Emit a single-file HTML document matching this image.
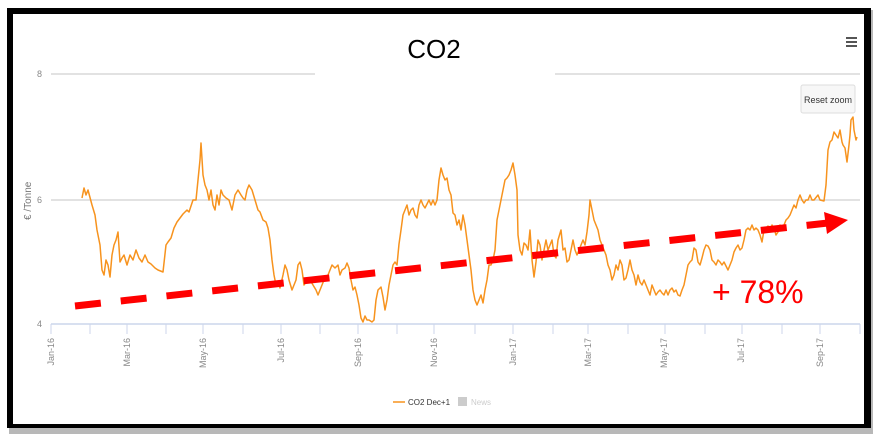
<!DOCTYPE html>
<html><head><meta charset="utf-8"><style>
html,body{margin:0;padding:0;background:#fff;width:886px;height:436px;overflow:hidden}
svg{display:block}
</style></head><body>
<svg width="886" height="436" viewBox="0 0 886 436" xmlns="http://www.w3.org/2000/svg" font-family="Liberation Sans, sans-serif">
<rect x="9" y="10" width="864" height="424" fill="#888" opacity="0.6"/>
<rect x="7" y="8" width="864" height="420" fill="#000"/>
<rect x="13" y="14" width="851" height="410" fill="#fff"/>
<line x1="51" y1="74" x2="315" y2="74" stroke="#d8d8d8" stroke-width="1.5"/>
<line x1="555" y1="74" x2="860" y2="74" stroke="#d8d8d8" stroke-width="1.5"/>
<line x1="51" y1="200" x2="860" y2="200" stroke="#d8d8d8" stroke-width="1.5"/>
<line x1="51" y1="324" x2="860" y2="324" stroke="#ccd6eb" stroke-width="1.5"/>
<g stroke="#ccd6eb" stroke-width="1">
<line x1="51" y1="324" x2="51" y2="334"/><line x1="90" y1="324" x2="90" y2="334"/><line x1="127" y1="324" x2="127" y2="334"/><line x1="166" y1="324" x2="166" y2="334"/><line x1="203" y1="324" x2="203" y2="334"/><line x1="243" y1="324" x2="243" y2="334"/><line x1="281" y1="324" x2="281" y2="334"/><line x1="320" y1="324" x2="320" y2="334"/><line x1="358" y1="324" x2="358" y2="334"/><line x1="397" y1="324" x2="397" y2="334"/><line x1="434" y1="324" x2="434" y2="334"/><line x1="475" y1="324" x2="475" y2="334"/><line x1="513" y1="324" x2="513" y2="334"/><line x1="553" y1="324" x2="553" y2="334"/><line x1="588" y1="324" x2="588" y2="334"/><line x1="628" y1="324" x2="628" y2="334"/><line x1="665" y1="324" x2="665" y2="334"/><line x1="705" y1="324" x2="705" y2="334"/><line x1="742" y1="324" x2="742" y2="334"/><line x1="782" y1="324" x2="782" y2="334"/><line x1="820" y1="324" x2="820" y2="334"/><line x1="860" y1="324" x2="860" y2="334"/>
</g>
<g fill="#888" font-size="9">
<text x="37" y="77">8</text><text x="37" y="203">6</text><text x="37" y="327">4</text>
</g>
<text transform="translate(31,220) rotate(-90)" fill="#777" font-size="10">€ /Tonne</text>
<g fill="#888" font-size="9" text-anchor="end">
<text transform="translate(54,338) rotate(-90)">Jan-16</text>
<text transform="translate(130,338) rotate(-90)">Mar-16</text>
<text transform="translate(206,338) rotate(-90)">May-16</text>
<text transform="translate(284,338) rotate(-90)">Jul-16</text>
<text transform="translate(361,338) rotate(-90)">Sep-16</text>
<text transform="translate(437,338) rotate(-90)">Nov-16</text>
<text transform="translate(516,338) rotate(-90)">Jan-17</text>
<text transform="translate(591,338) rotate(-90)">Mar-17</text>
<text transform="translate(667,338) rotate(-90)">May-17</text>
<text transform="translate(744,338) rotate(-90)">Jul-17</text>
<text transform="translate(823,338) rotate(-90)">Sep-17</text>
</g>
<text x="434" y="58" text-anchor="middle" font-size="26" fill="#000">CO2</text>
<g fill="#555"><rect x="846" y="37" width="11" height="2"/><rect x="846" y="41" width="11" height="2"/><rect x="846" y="45" width="11" height="2"/></g>
<rect x="801" y="85" width="54" height="28" rx="2" fill="#f7f7f7" stroke="#ddd"/>
<text x="828" y="103" text-anchor="middle" font-size="9" fill="#333">Reset zoom</text>
<polyline fill="none" stroke="#f7931e" stroke-width="1.5" stroke-linejoin="round" points="82,198 84,188 86,195 88,190 92,205 95,215 97,230 100,245 102,270 104,275 106,260 108,265 110,277 112,255 114,245 116,240 118,232 120,262 122,258 124,255 127,265 130,255 133,260 136,250 139,258 142,262 145,255 148,262 151,264 155,268 158,270 163,272 166,245 168,242 171,238 174,228 177,222 180,218 183,214 187,210 189,212 193,200 196,200 198,180 200,160 201,143 203,175 205,185 207,190 209,200 211,190 213,205 215,210 217,195 219,205 221,190 223,195 226,198 229,200 232,210 235,195 238,190 241,195 243,198 245,200 247,190 249,185 252,190 255,200 258,210 260,212 263,220 266,222 268,228 270,240 272,260 274,275 276,285 278,282 280,288 283,275 285,265 287,270 289,280 292,290 294,285 296,280 298,265 300,262 302,270 304,285 306,282 308,278 310,280 313,285 316,290 318,295 320,290 322,285 324,280 326,278 328,275 330,270 332,265 335,268 338,265 340,275 342,270 345,268 347,263 349,268 351,280 353,290 355,287 357,295 359,305 361,318 363,322 365,316 367,320 369,320 372,322 374,320 376,300 378,290 381,287 383,297 385,310 387,300 389,285 391,275 393,265 395,262 397,265 399,244 401,230 403,215 405,210 407,205 409,215 411,210 413,208 415,215 417,218 419,205 421,200 423,205 425,208 427,204 429,200 431,205 433,200 435,205 437,200 439,180 441,168 443,175 445,180 447,178 449,190 451,195 453,213 455,215 457,225 459,220 461,230 463,215 465,225 467,240 469,255 471,270 473,290 475,300 477,305 479,300 481,295 483,303 485,290 487,280 489,265 491,265 493,260 495,250 497,220 499,210 501,200 503,190 505,180 507,178 509,175 511,170 513,163 515,175 517,190 518,235 520,250 522,255 524,243 526,245 528,250 530,230 532,260 534,277 536,262 538,240 540,245 542,260 544,250 546,240 548,250 550,245 552,240 554,255 556,258 558,240 561,230 563,250 565,248 567,262 569,260 571,250 573,240 575,250 577,255 579,250 581,245 583,240 585,245 587,232 589,215 590,200 592,210 594,220 596,225 598,230 600,240 602,245 604,250 606,255 608,265 610,270 612,280 614,275 616,265 618,270 620,260 622,265 624,280 626,278 628,270 630,260 632,270 634,275 636,285 638,275 640,282 642,285 644,280 646,285 648,290 650,295 652,285 654,290 656,295 658,292 660,290 662,293 664,295 666,290 668,295 670,290 672,288 674,292 676,290 678,295 680,296 682,290 684,285 686,275 688,265 690,262 692,260 694,248 696,250 698,262 700,265 702,258 704,250 706,245 708,246 710,250 712,260 714,262 716,265 718,260 720,262 722,265 724,262 726,266 728,270 730,265 732,260 734,252 736,248 738,245 740,250 742,248 744,240 746,230 748,228 750,230 752,225 754,230 756,228 758,230 760,235 762,242 764,230 766,228 768,226 770,230 772,225 774,228 776,235 778,232 780,225 782,228 784,225 786,220 788,218 790,215 792,210 794,205 796,208 798,200 800,195 802,200 804,203 806,200 808,200 810,195 812,200 814,200 818,195 820,200 824,201 826,185 828,150 830,142 832,140 834,132 836,135 838,138 840,130 842,142 843,145 845,148 847,162 849,145 850,135 851,120 853,117 854,130 856,140 857,137"/>
<line x1="75" y1="306" x2="828" y2="223" stroke="#ff0000" stroke-width="7" stroke-dasharray="26,20"/>
<polygon points="848,220 824,212 827,234" fill="#ff0000"/>
<text x="712" y="303" font-size="32" fill="#ff0000">+ 78%</text>
<line x1="393" y1="402" x2="405" y2="402" stroke="#f7931e" stroke-width="1.5"/>
<text x="408" y="405" font-size="8" fill="#333">CO2 Dec+1</text>
<rect x="458" y="397" width="9" height="9" fill="#ccc"/>
<text x="471" y="405" font-size="8" fill="#ccc">News</text>
</svg>
</body></html>
